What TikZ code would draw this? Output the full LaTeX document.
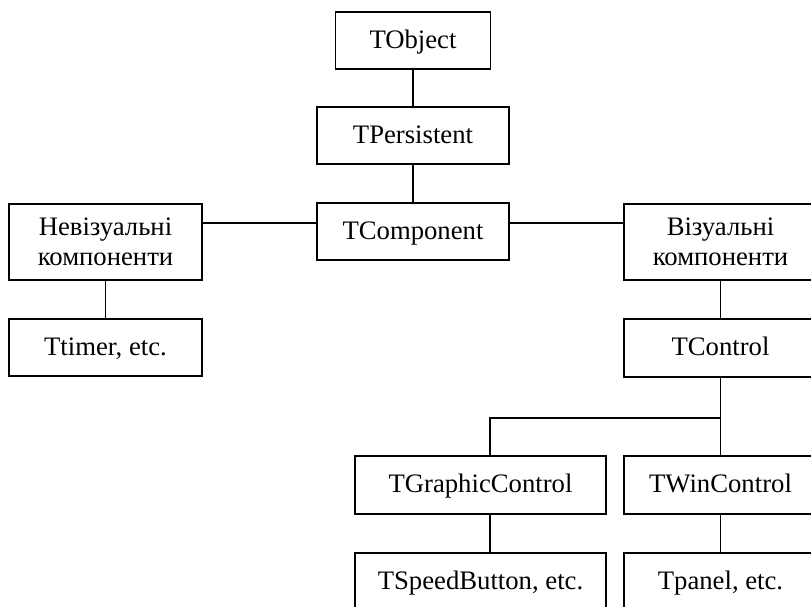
\documentclass[tikz,border=0pt]{standalone}
\usepackage{fontspec}
\setmainfont{Liberation Serif}
\begin{document}
\begin{tikzpicture}[x=1pt,y=-1pt,
  box/.style={draw, line width=1.6pt, rectangle, inner sep=0pt, align=center,
    minimum height=57.5pt, font=\fontsize{26.7}{30}\selectfont},
  one/.style={text height=20pt, text depth=4.6pt},
  wide/.style={minimum width=192.5pt},
  tall/.style={minimum height=76pt},
  conn/.style={line width=1.6pt}]
\useasboundingbox (0,0) rectangle (811,606);
\clip (0,0) rectangle (811,606);
\node[box, one, minimum width=155pt] (tobj) at (413,40.5) {TObject};
\node[box, one, wide] (tpers) at (413,135.5) {TPersistent};
\node[box, one, wide] (tcomp) at (413,231.5) {TComponent};
\node[box, wide, tall] (nev) at (105.5,242) {Невізуальні\\компоненти};
\node[box, one, wide] (timer) at (105.5,347.5) {Ttimer, etc.};
\node[box, wide, tall] (viz) at (720.5,242) {Візуальні\\компоненти};
\node[box, one, wide] (tctrl) at (720.5,348) {TControl};
\node[box, one, minimum width=251pt] (tgc) at (480.5,485) {TGraphicControl};
\node[box, one, wide] (twc) at (720.5,485) {TWinControl};
\node[box, one, minimum width=251pt] (tsb) at (480.5,582) {TSpeedButton, etc.};
\node[box, one, wide] (tpanel) at (720.5,582) {Tpanel, etc.};
\coordinate (hy) at (0,223);
\coordinate (br) at (720.5,418);
\coordinate (gx) at (490,0);
\draw[conn] (tobj) -- (tpers);
\draw[conn] (tpers) -- (tcomp);
\draw[conn] (nev.east |- hy) -- (tcomp.west |- hy);
\draw[conn] (tcomp.east |- hy) -- (viz.west |- hy);
\draw[conn] (nev) -- (timer);
\draw[conn] (viz) -- (tctrl);
\draw[conn] (tctrl.south) -- (br) -| (gx |- tgc.north);
\draw[conn] (br) -- (twc.north);
\draw[conn] (gx |- tgc.south) -- (gx |- tsb.north);
\draw[conn] (twc) -- (tpanel);
\end{tikzpicture}
\end{document}
